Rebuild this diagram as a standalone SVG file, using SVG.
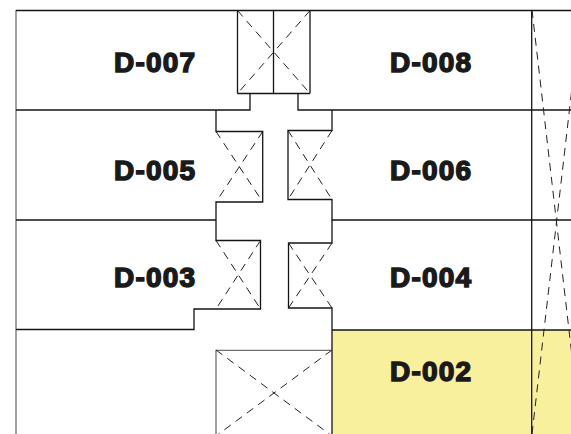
<svg xmlns="http://www.w3.org/2000/svg" width="571" height="434" viewBox="0 0 571 434">
<style>
.w{fill:none;stroke:#141414;stroke-width:1.3}
.g{fill:none;stroke:#6f6f6f;stroke-width:1.3}
.d{fill:none;stroke:#222;stroke-width:1;stroke-dasharray:8 6}
.t{font-family:"Liberation Sans",Arial,sans-serif;font-weight:700;font-size:28px;fill:#1a1a1a;stroke:#1a1a1a;stroke-width:1.5;letter-spacing:1.2px}
</style>
<rect id="unit-D-002" x="332" y="330" width="239" height="104" fill="#f9f09e"/>
<g id="connectors">
<path class="g" d="M16 10V434"/>
<path class="w" d="M16 10.500H571M16 110H250V93.500M237.500 93.500H310M298 93.500V110H571M237.500 10.500V93.500M273.500 10.500V93.500M310 10.500V93.500"/>
<path class="w" d="M216 110V131.500H262.700V202H216V220M16 220H216"/>
<path class="w" d="M332 110V130.500H288V199.500H332V220H571"/>
<path class="w" d="M216 220V240.500H260.500V309H194V329.500H16"/>
<path class="w" d="M332 220V243H288.500V308H332V434M332 330H571M531.700 10.500V434"/>
<path class="g" d="M216 434V350.300H332"/>
<path class="d" d="M237.500 10.500L310 93.500M310 10.500L237.500 93.500"/>
<path class="d" d="M216 131.500L262.700 202M262.700 131.500L216 202"/>
<path class="d" d="M288 130.500L332 199.500M332 130.500L288 199.500"/>
<path class="d" d="M216 240.500L260.500 309M260.500 240.500L216 309"/>
<path class="d" d="M288.500 243L332 308M332 243L288.500 308"/>
<path class="d" d="M216 350L332 436M332 350L216 436"/>
<path class="d" d="M532 10L581 434M532 434L581 10"/>
</g>
<g id="D-007"><text class="t" x="114" y="72">D-007</text></g>
<g id="D-008"><text class="t" x="390" y="72">D-008</text></g>
<g id="D-005"><text class="t" x="114" y="180">D-005</text></g>
<g id="D-006"><text class="t" x="390" y="180">D-006</text></g>
<g id="D-003"><text class="t" x="114" y="287">D-003</text></g>
<g id="D-004"><text class="t" x="390" y="287">D-004</text></g>
<g id="D-002"><text class="t" x="390" y="381">D-002</text></g>
</svg>
